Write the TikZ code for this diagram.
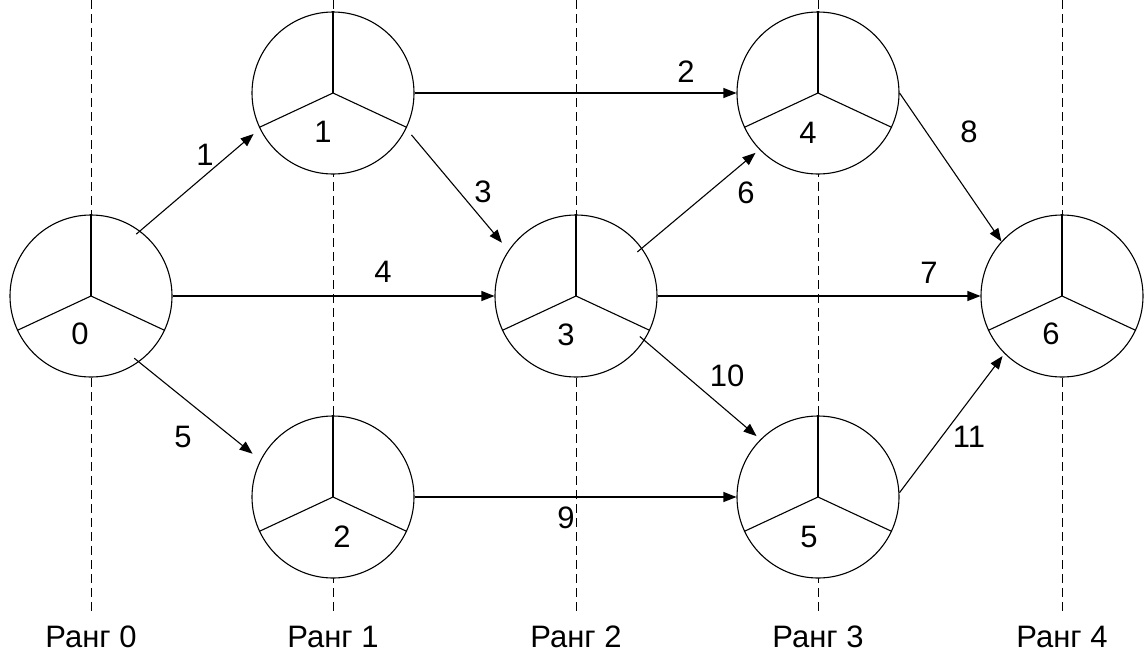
\documentclass[tikz,border=0pt]{standalone}
\usepackage{fontspec}
\setmainfont{Liberation Sans}
\usetikzlibrary{arrows.meta}

\begin{document}
\begin{tikzpicture}[x=1pt,y=-1pt,
  event/.style={circle,draw,fill=white,minimum size=162pt,inner sep=0pt,line width=1.1pt},
  sector/.style={line width=1.1pt},
  guide/.style={line width=1pt,dash pattern=on 9pt off 5pt},
  work/.style={line width=1.1pt,-{Triangle[length=13pt,width=10pt]}},
  lbl/.style={font=\fontsize{31}{31}\selectfont,inner sep=0pt},
]
\useasboundingbox (0,0) rectangle (1144,654);

% rank guide lines and their captions
\foreach \x/\k in {91/0,333/1,576/2,818/3,1062/4} {
  \draw[guide] (\x,0) -- (\x,613);
  \node[lbl] (rank\k) at (\x,637) {Ранг \k};
}

% events
\node[event] (e0) at (91,296) {};
\node[event] (e1) at (333,93) {};
\node[event] (e2) at (333,497) {};
\node[event] (e3) at (576,296) {};
\node[event] (e4) at (818,93) {};
\node[event] (e5) at (818,497) {};
\node[event] (e6) at (1062,296) {};

% three sectors in every event circle
\foreach \e in {e0,e1,e2,e3,e4,e5,e6} {
  \draw[sector] (\e.center) -- (\e.90);
  \draw[sector] (\e.center) -- (\e.205);
  \draw[sector] (\e.center) -- (\e.-25);
}

% event numbers in the lower sector
\node[lbl] (n0) at ([xshift=-11pt,yshift=-38pt]e0.center) {0};
\node[lbl] (n1) at ([xshift=-10pt,yshift=-39pt]e1.center) {1};
\node[lbl] (n2) at ([xshift=9pt,yshift=-40pt]e2.center) {2};
\node[lbl] (n3) at ([xshift=-10pt,yshift=-39pt]e3.center) {3};
\node[lbl] (n4) at ([xshift=-10pt,yshift=-40pt]e4.center) {4};
\node[lbl] (n5) at ([xshift=-9pt,yshift=-40pt]e5.center) {5};
\node[lbl] (n6) at ([xshift=-11pt,yshift=-38pt]e6.center) {6};

% works
\draw[work,shorten <=-5pt,shorten >=8pt] (e0.53) -- (e1.206);
\draw[work,shorten <=-6pt,shorten >=10pt] (e0.-54) -- (e2.153);
\draw[work] (e0.0) -- (e3.180);
\draw[work] (e1.0) -- (e4.180);
\draw[work,shorten <=8pt,shorten >=10pt] (e1.-26) -- (e3.146);
\draw[work,shorten <=-6pt,shorten >=5pt] (e3.36) -- (e4.224);
\draw[work] (e3.0) -- (e6.180);
\draw[work,shorten <=-6pt,shorten >=5pt] (e3.-33) -- (e5.135);
\draw[work] (e4.0) -- (e6.138);
\draw[work] (e2.0) -- (e5.180);
\draw[work,shorten >=3pt] (e5.3) -- (e6.225);

% work numbers
\node[lbl] (w1) at (205,155) {1};
\node[lbl] (w2) at (686,72) {2};
\node[lbl] (w3) at (483,192) {3};
\node[lbl] (w4) at (383,272) {4};
\node[lbl] (w5) at (183,437) {5};
\node[lbl] (w6) at (746,193) {6};
\node[lbl] (w7) at (929,273) {7};
\node[lbl] (w8) at (969,132) {8};
\node[lbl] (w9) at (566,518) {9};
\node[lbl] (w10) at (727,376) {10};
\node[lbl] (w11) at (969,437) {11};
\end{tikzpicture}
\end{document}
